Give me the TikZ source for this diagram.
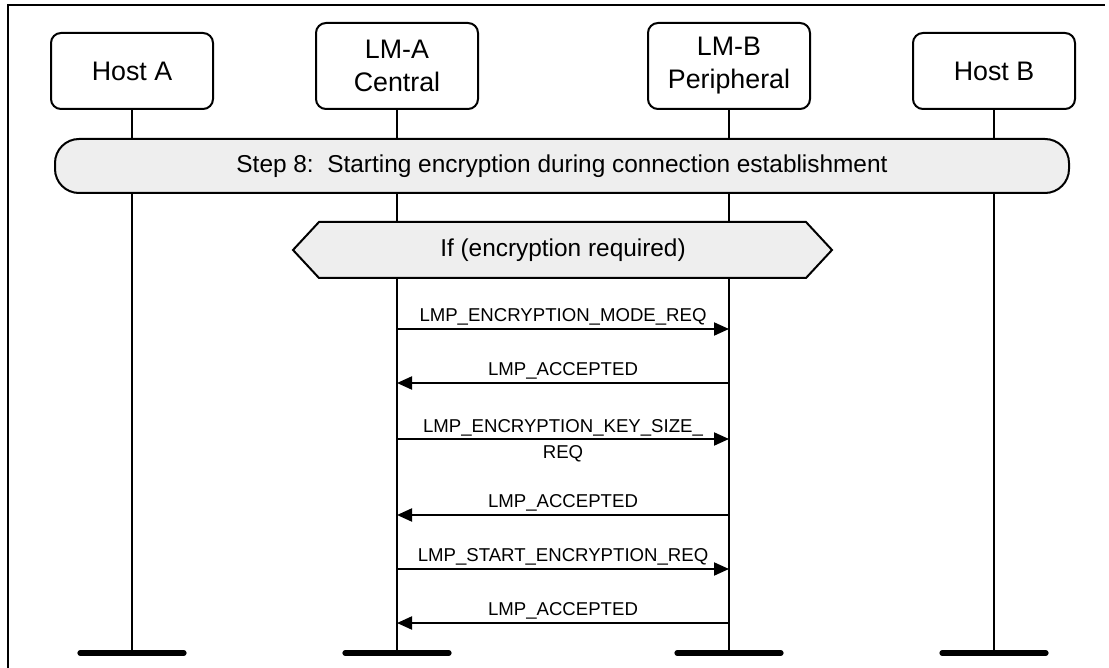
\documentclass[tikz,border=0pt]{standalone}
\usepackage{fontspec}
\setmainfont{Liberation Sans}
\usetikzlibrary{calc,arrows.meta}
\definecolor{bargray}{HTML}{EEEEEE}

\tikzset{
  entity/.style={draw, line width=1pt, rounded corners=5pt, minimum width=81pt,
    align=center, font=\fontsize{13.4}{16.5}\selectfont},
  lifeline/.style={line width=1pt},
  endbar/.style={line width=2.6pt, line cap=round},
  phase/.style={draw, fill=bargray, line width=1pt, font=\fontsize{12.2}{14}\selectfont},
  msg/.style={line width=1pt, -{Triangle[length=7.5pt,width=6.5pt]}},
  msglabel/.style={font=\fontsize{9.3}{13}\selectfont, inner sep=1.5pt}
}

\begin{document}
\begin{tikzpicture}[x=0.5pt, y=-0.5pt]
        \useasboundingbox (0,0) rectangle (1109,668);
        % frame
        \path[draw, line width=1pt] (7.5,668) -- (7.5,5.5) -- (1105,5.5);

        % entities
        \node[entity, minimum height=38pt] (hostA) at (132,71) {Host A};
        \node[entity, minimum height=43pt] (lmA) at (397,66) {LM-A\\Central};
        \node[entity, minimum height=43pt] (lmB) at (729,66) {LM-B\\Peripheral};
        \node[entity, minimum height=38pt] (hostB) at (994,71) {Host B};

        % lifelines
        \foreach \ent/\x in {hostA/132, lmA/397, lmB/729, hostB/994}{
          \coordinate (\ent-end) at (\x,653);
          \path[draw, lifeline] (\ent) -- (\ent-end);
          \path[draw, endbar] ($(\ent-end)+(-52,0)$) -- ($(\ent-end)+(52,0)$);
        }

        % step bar
        \node[phase, minimum width=507pt, minimum height=27pt, rounded corners=12pt]
          (step8) at (562,166) {Step 8:\ \ Starting encryption during connection establishment};

        % condition
        \path[draw, fill=bargray, line width=1pt] (293,250) -- (319,222) -- (806,222)
          -- (832,250) -- (806,278) -- (319,278) -- cycle;
        \node[font=\fontsize{12.2}{14}\selectfont] (cond) at (563,250) {If (encryption required)};

        % messages
        \foreach \i/\y in {1/329,2/383,3/439,4/515,5/569,6/623}{
          \coordinate (a\i) at (397,\y);
          \coordinate (b\i) at (729,\y);
        }
        \path[draw, msg] (a1) -- node[msglabel, above] {LMP\_ENCRYPTION\_MODE\_REQ} (b1);
        \path[draw, msg] (b2) -- node[msglabel, above] {LMP\_ACCEPTED} (a2);
        \path[draw, msg] (a3) -- node[msglabel, align=center, yshift=-1pt] {LMP\_ENCRYPTION\_KEY\_SIZE\_\\REQ} (b3);
        \path[draw, msg] (b4) -- node[msglabel, above] {LMP\_ACCEPTED} (a4);
        \path[draw, msg] (a5) -- node[msglabel, above] {LMP\_START\_ENCRYPTION\_REQ} (b5);
        \path[draw, msg] (b6) -- node[msglabel, above] {LMP\_ACCEPTED} (a6);
\end{tikzpicture}
\end{document}
